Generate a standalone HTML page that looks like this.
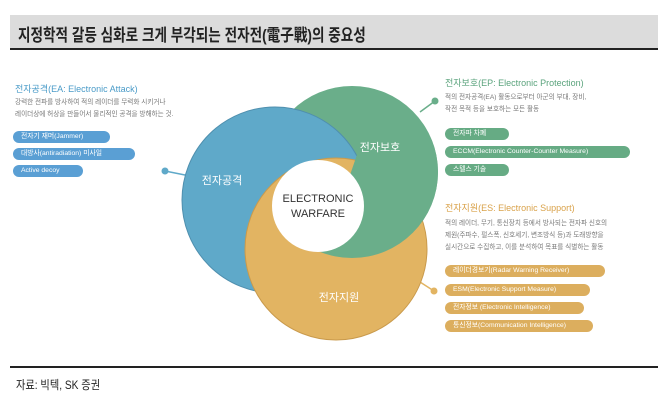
<!DOCTYPE html>
<html><head><meta charset="utf-8"><style>
body{margin:0;width:670px;height:409px;background:#fff;position:relative;overflow:hidden;font-family:"Liberation Sans","Noto Sans CJK KR",sans-serif}
.a{position:absolute;white-space:nowrap}
.title{left:10px;top:15px;width:648px;height:33px;background:#dcdcdc;border-bottom:2px solid #222}
.title span{position:absolute;left:8px;top:6px;font-size:17px;font-weight:bold;color:#222;transform:scaleX(0.8);transform-origin:0 0}
.h{font-size:9px}
.d{font-size:6.6px;color:#777;line-height:12px}
.p{height:12px;border-radius:6px;color:#fff;font-size:6.8px;line-height:12px;padding-left:8px;box-sizing:border-box}
.b{background:#5a9fd4}.g{background:#66ab84}.y{background:#dcae5e}
</style></head><body>
<div class="a title"><span>지정학적 갈등 심화로 크게 부각되는 전자전(電子戰)의 중요성</span></div>
<svg class="a" style="left:0;top:0" width="670" height="409">
<defs><clipPath id="c"><polygon points="362,140 540,140 540,360 290,360 290,215 340,188 350,175"/></clipPath></defs>
<line x1="165" y1="171" x2="190" y2="176" stroke="#5fa9c9" stroke-width="1.5"/>
<circle cx="165" cy="171" r="3.5" fill="#5fa9c9"/>
<line x1="435" y1="101" x2="420" y2="112" stroke="#6aae8a" stroke-width="1.5"/>
<circle cx="435" cy="101" r="3.5" fill="#6aae8a"/>
<line x1="434" y1="291" x2="420" y2="282" stroke="#e2b462" stroke-width="1.5"/>
<circle cx="434" cy="291" r="3.5" fill="#e2b462"/>
<circle cx="352" cy="172" r="86" fill="#6aae8a"/>
<circle cx="275" cy="200" r="93" fill="#5fa9c9" stroke="#4f8fae" stroke-width="1"/>
<circle cx="336" cy="249" r="91" fill="#e2b462" stroke="#c99a4c" stroke-width="1"/>
<circle cx="352" cy="172" r="86" fill="#6aae8a" clip-path="url(#c)"/>
<circle cx="318" cy="206" r="46" fill="#fff"/>
<text x="318" y="202" text-anchor="middle" font-size="11" fill="#333" font-family="Liberation Sans,sans-serif">ELECTRONIC</text>
<text x="318" y="217" text-anchor="middle" font-size="11" fill="#333" font-family="Liberation Sans,sans-serif">WARFARE</text>
<text x="222" y="184" text-anchor="middle" font-size="11" fill="#fff" font-family="Liberation Sans,Noto Sans CJK KR,sans-serif">전자공격</text>
<text x="380" y="151" text-anchor="middle" font-size="11" fill="#fff" font-family="Liberation Sans,Noto Sans CJK KR,sans-serif">전자보호</text>
<text x="339" y="301" text-anchor="middle" font-size="11" fill="#fff" font-family="Liberation Sans,Noto Sans CJK KR,sans-serif">전자지원</text>
</svg>
<div class="a h" style="left:15px;top:82px;color:#4a9bc8">전자공격(EA: Electronic Attack)</div>
<div class="a d" style="left:15px;top:97px">강력한 전파를 방사하여 적의 레이더를 무력화 시키거나<br>레이더상에 허상을 만들어서 물리적인 공격을 방해하는 것.</div>
<div class="a p b" style="left:13px;top:131px;width:97px">전자기 재머(Jammer)</div>
<div class="a p b" style="left:13px;top:148px;width:122px">대방사(antiradiation) 미사일</div>
<div class="a p b" style="left:13px;top:165px;width:70px">Active decoy</div>
<div class="a h" style="left:445px;top:76px;color:#5aa37c">전자보호(EP: Electronic Protection)</div>
<div class="a d" style="left:445px;top:92px">적의 전자공격(EA) 활동으로부터 아군의 부대, 장비,<br>작전 목적 등을 보호하는 모든 활동</div>
<div class="a p g" style="left:445px;top:128px;width:64px">전자파 차폐</div>
<div class="a p g" style="left:445px;top:146px;width:185px">ECCM(Electronic Counter-Counter Measure)</div>
<div class="a p g" style="left:445px;top:164px;width:64px">스텔스 기술</div>
<div class="a h" style="left:445px;top:201px;color:#d9a24a">전자지원(ES: Electronic Support)</div>
<div class="a d" style="left:445px;top:218px">적의 레이더, 무기, 통신장치 등에서 방사되는 전자파 신호의<br>제원(주파수, 펄스폭, 신호세기, 변조방식 등)과 도래방향을<br>실시간으로 수집하고, 이를 분석하여 목표를 식별하는 활동</div>
<div class="a p y" style="left:445px;top:265px;width:160px">레이더경보기(Radar Warning Receiver)</div>
<div class="a p y" style="left:445px;top:284px;width:145px">ESM(Electronic Support Measure)</div>
<div class="a p y" style="left:445px;top:302px;width:139px">전자정보 (Electronic Intelligence)</div>
<div class="a p y" style="left:445px;top:320px;width:148px">통신정보(Communication Intelligence)</div>
<div class="a" style="left:10px;top:366px;width:648px;height:2px;background:#222"></div>
<div class="a" style="left:16px;top:376px;font-size:12px;color:#222;transform:scaleX(0.85);transform-origin:0 0">자료: 빅텍, SK 증권</div>
</body></html>
